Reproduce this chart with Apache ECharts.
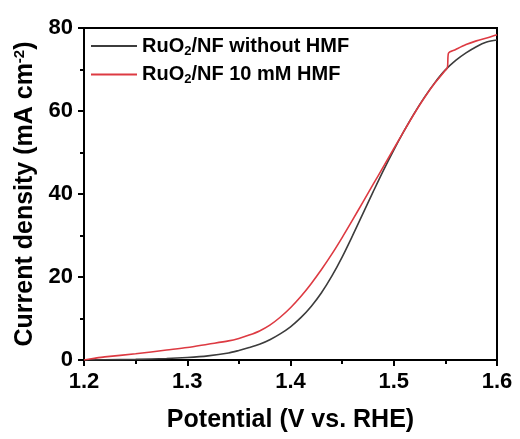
<!DOCTYPE html>
<html>
<head>
<meta charset="utf-8">
<script src="https://cdn.jsdelivr.net/npm/echarts@6/dist/echarts.min.js"></script>
<style>html,body{margin:0;padding:0;background:#fff;}#c{width:520px;height:439px;}</style>
</head>
<body>
<div id="c"></div>
<script>
// Potential (V vs. RHE)
const potWithout = [1.20,1.22,1.25,1.28,1.30,1.32,1.34,1.35,1.36,1.37,1.38,1.39,1.40,1.41,1.42,1.43,1.44,1.45,1.46,1.47,1.48,1.49,1.50,1.51,1.52,1.53,1.54,1.55,1.56,1.57,1.58,1.59,1.60];
const curWithout = [0,0.05,0.15,0.35,0.6,1.0,1.7,2.3,3.0,3.8,4.9,6.3,8.0,10.2,12.9,16.2,20.2,24.8,29.9,35.2,40.5,45.7,50.6,55.2,59.5,63.4,66.9,69.9,72.2,74.0,75.5,76.6,77.1];
const potHMF = [1.20,1.21,1.22,1.25,1.28,1.30,1.32,1.34,1.35,1.36,1.37,1.38,1.39,1.40,1.41,1.42,1.43,1.44,1.45,1.46,1.47,1.48,1.49,1.50,1.51,1.52,1.53,1.54,1.55,1.552,1.553,1.56,1.57,1.58,1.59,1.60];
const curHMF = [0,0.4,0.75,1.5,2.4,3.0,3.8,4.6,5.2,6.0,7.0,8.4,10.3,12.6,15.3,18.4,21.8,25.5,29.5,33.7,38.0,42.3,46.6,50.9,55.2,59.4,63.3,66.8,69.8,70.5,73.9,74.8,76.0,76.9,77.6,78.4];
const seriesNames = ['RuO{sub|2}/NF without HMF', 'RuO{sub|2}/NF 10 mM HMF'];
const xTicks = ['1.2','1.3','1.4','1.5','1.6'];

const chart = echarts.init(document.getElementById('c'));
const F = 'Liberation Sans, Arial, sans-serif';
const zip = (a, b) => a.map((v, i) => [v, b[i]]);
chart.setOption({
  animation: false,
  backgroundColor: '#fff',
  grid: {left: 84, right: 23, top: 28, bottom: 79, show: true, borderColor: '#000', borderWidth: 2, backgroundColor: 'transparent'},
  legend: {
    orient: 'vertical', left: 86, top: 31, itemGap: 7, itemWidth: 46, itemHeight: 2, icon: 'rect',
    data: seriesNames,
    formatter: n => n,
    textStyle: {fontFamily: F, fontSize: 20, fontWeight: 'bold', color: '#000',
      rich: {sub: {fontFamily: F, fontSize: 13, fontWeight: 'bold', verticalAlign: 'bottom', padding: [10,0,0,0], color: '#000'}}}
  },
  xAxis: {
    type: 'value', min: 1.2, max: 1.6, interval: 0.1,
    name: 'Potential (V vs. RHE)', nameLocation: 'middle', nameGap: 48,
    nameTextStyle: {fontFamily: F, fontSize: 25, fontWeight: 'bold', color: '#000'},
    axisLine: {lineStyle: {color: '#000', width: 2}},
    axisTick: {inside: false, length: 6, lineStyle: {color: '#000', width: 2}},
    minorTick: {show: true, splitNumber: 2, length: 4, lineStyle: {color: '#000', width: 2}},
    splitLine: {show: false},
    axisLabel: {margin: 11, fontFamily: F, fontSize: 22, fontWeight: 'bold', color: '#000',
      formatter: v => xTicks[Math.round((v - 1.2) * 10)] || ''}
  },
  yAxis: {
    type: 'value', min: 0, max: 80, interval: 20,
    name: 'Current density (mA cm{sup|-2})', nameLocation: 'middle', nameGap: 34,
    nameTextStyle: {fontFamily: F, fontSize: 25, fontWeight: 'bold', color: '#000',
      rich: {sup: {fontFamily: F, fontSize: 15, fontWeight: 'bold', verticalAlign: 'top', padding: [0,0,11,0], color: '#000'}}},
    axisLine: {show: true, lineStyle: {color: '#000', width: 2}},
    axisTick: {show: true, inside: false, length: 6, lineStyle: {color: '#000', width: 2}},
    minorTick: {show: true, splitNumber: 2, length: 4, lineStyle: {color: '#000', width: 2}},
    splitLine: {show: false},
    axisLabel: {margin: 11, fontFamily: F, fontSize: 22, fontWeight: 'bold', color: '#000'}
  },
  series: [
    {name: seriesNames[0], type: 'line', data: zip(potWithout, curWithout), smooth: 0.3, showSymbol: false,
      lineStyle: {color: '#3c3c3c', width: 1.6}, itemStyle: {color: '#3c3c3c'}, z: 2},
    {name: seriesNames[1], type: 'line', data: zip(potHMF, curHMF), smooth: 0.3, showSymbol: false,
      lineStyle: {color: '#dd3a42', width: 1.6}, itemStyle: {color: '#dd3a42'}, z: 3}
  ]
});
</script>
</body>
</html>
